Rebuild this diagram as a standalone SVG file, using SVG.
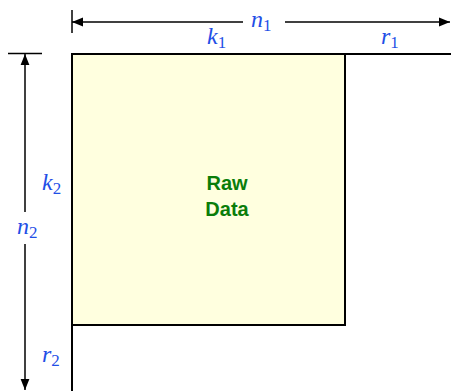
<svg xmlns="http://www.w3.org/2000/svg" width="451" height="391" viewBox="0 0 451 391">
<style>
.ln{stroke:#000;stroke-width:2;fill:none}
.dim{stroke:#000;stroke-width:1.5;fill:none}
.lbl{font-family:"Liberation Serif",serif;font-style:italic;font-size:24px;fill:#1f4fe6}
.sub{font-size:17px;font-style:normal}
.raw{font-family:"Liberation Sans",Arial,sans-serif;font-weight:bold;font-size:20px;fill:#0a7d0a;text-anchor:middle}
</style>
<defs>
<marker id="ah" viewBox="0 0 10 10" refX="10" refY="5" markerWidth="11" markerHeight="11" markerUnits="userSpaceOnUse" orient="auto-start-reverse">
<path d="M0,1 L10,5 L0,9 Z" fill="#000"/>
</marker>
</defs>
<g id="raw-data">
<rect x="72" y="54" width="273" height="271" fill="#ffffdf" stroke="#000" stroke-width="2"/>
<text class="raw" x="227" y="190">Raw</text>
<text class="raw" x="227" y="216">Data</text>
</g>
<g id="connectors">
<line class="ln" x1="345" y1="54" x2="451" y2="54"/>
<line class="ln" x1="72" y1="325" x2="72" y2="391"/>
<line class="dim" x1="72" y1="10" x2="72" y2="33"/>
<line class="dim" x1="72" y1="22" x2="243" y2="22" marker-start="url(#ah)"/>
<line class="dim" x1="285" y1="22" x2="450" y2="22" marker-end="url(#ah)"/>
<line class="dim" x1="8" y1="53.5" x2="42" y2="53.5"/>
<line class="dim" x1="25" y1="54" x2="25" y2="212" marker-start="url(#ah)"/>
<line class="dim" x1="25" y1="244" x2="25" y2="390" marker-end="url(#ah)"/>
</g>
<g id="labels">
<text class="lbl" x="251" y="27">n<tspan class="sub" dy="4">1</tspan></text>
<text class="lbl" x="207" y="44">k<tspan class="sub" dy="4">1</tspan></text>
<text class="lbl" x="381" y="44">r<tspan class="sub" dy="4">1</tspan></text>
<text class="lbl" x="42" y="190">k<tspan class="sub" dy="4">2</tspan></text>
<text class="lbl" x="17" y="234">n<tspan class="sub" dy="4">2</tspan></text>
<text class="lbl" x="42" y="362">r<tspan class="sub" dy="4">2</tspan></text>
</g>
</svg>
